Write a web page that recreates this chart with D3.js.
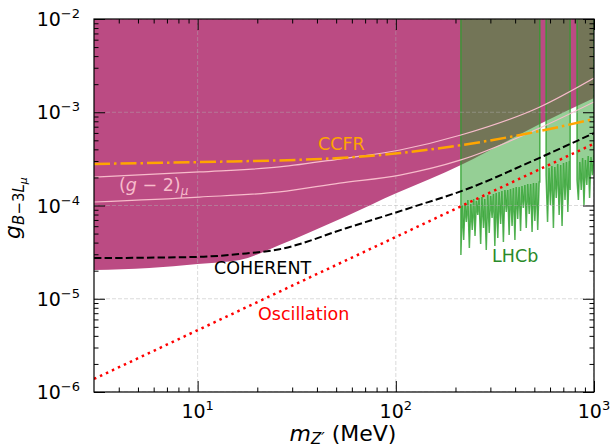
<!DOCTYPE html>
<html>
<head>
<meta charset="utf-8">
<script src="https://cdn.jsdelivr.net/npm/d3@7"></script>
<style>
body { margin: 0; background: #fff; }
svg text { font-family: "DejaVu Sans", sans-serif; }
</style>
</head>
<body>
<div id="chart"></div>
<script>
// tick values
var massTicks = [10, 100, 1000];
var massMinor = [4, 5, 6, 7, 8, 9, 20, 30, 40, 50, 60, 70, 80, 90, 200, 300, 400, 500, 600, 700, 800, 900];
var couplingTicks = [1e-6, 1e-5, 1e-4, 1e-3, 1e-2];
var couplingExp = ["\u22126", "\u22125", "\u22124", "\u22123", "\u22122"];
var massExp = ["1", "2", "3"];

// lower edge of the already excluded (magenta) region, [m (MeV), g]
var excludedEdge = [[3, 2.03e-5], [5.7, 2.14e-5], [10, 2.36e-5], [16.3, 2.61e-5], [25.9, 3.77e-5],
    [38.1, 5.33e-5], [56.6, 7.72e-5], [101, 1.36e-4], [148.5, 1.92e-4], [213, 2.72e-4],
    [533, 7.48e-4], [1000, 1.42e-3]];

// LHCb lower edge, three pieces
var lhcbSeg1 = [[213, 2.94e-5], [216.5, 1.012e-4], [220, 4.27e-5], [223.5, 1.064e-4], [227, 6.65e-5],
    [231, 1.146e-4], [235, 3.50e-5], [239, 1.038e-4], [243, 5.46e-5], [247, 1.174e-4],
    [251, 4.71e-5], [255, 1.117e-4], [259, 7.91e-5], [263, 1.203e-4], [268, 3.87e-5],
    [272, 1.233e-4], [277, 5.74e-5], [281, 1.174e-4], [286, 3.33e-5], [291, 1.296e-4],
    [296, 5.07e-5], [301, 1.264e-4], [306, 7.35e-5], [311, 1.328e-4], [316, 3.68e-5],
    [321, 1.361e-4], [327, 4.48e-5], [332, 1.395e-4], [338, 6.33e-5], [343, 1.430e-4],
    [349, 4.06e-5], [355, 1.466e-4], [361, 8.52e-5], [367, 1.466e-4], [373, 4.83e-5],
    [379, 1.503e-4], [386, 6.03e-5], [392, 1.540e-4], [399, 4.27e-5], [405, 1.579e-4],
    [412, 7.17e-5], [419, 1.579e-4], [426, 5.33e-5], [433, 1.618e-4], [440, 9.40e-5],
    [448, 1.659e-4], [455, 5.74e-5], [463, 1.700e-4], [471, 8.11e-5], [479, 1.700e-4],
    [487, 5.20e-5], [495, 1.743e-4], [503, 6.82e-5], [512, 1.743e-4], [520, 5.46e-5],
    [529, 1.786e-4], [533, 1.786e-4]];
var lhcbSeg2 = [[573, 2.12e-4], [583, 6.65e-5], [593, 2.52e-4], [603, 1.012e-4], [613, 2.65e-4],
    [624, 5.74e-5], [634, 2.59e-4], [645, 1.203e-4], [656, 2.79e-4], [667, 7.91e-5],
    [679, 2.72e-4], [690, 6.03e-5], [702, 2.86e-4], [714, 1.146e-4], [726, 2.93e-4],
    [738, 8.52e-5], [751, 3.0e-4], [758, 1.466e-4]];
var lhcbSeg3 = [[821, 1.877e-4], [834, 1.146e-4], [848, 2.93e-4], [862, 1.466e-4], [876, 3.23e-4],
    [890, 1.012e-4], [905, 3.08e-4], [920, 1.659e-4], [935, 3.40e-4], [950, 1.203e-4],
    [966, 3.31e-4], [982, 2.12e-4], [1000, 3.48e-4]];

// (g-2)_mu band edges
var gm2Upper = [[3, 2.02e-4], [10.2, 2.29e-4], [25.9, 2.59e-4], [52, 3.15e-4], [105, 3.94e-4],
    [213, 5.70e-4], [533, 1.14e-3], [1000, 2.33e-3]];
var gm2Lower = [[3, 1.09e-4], [10.2, 1.23e-4], [25.9, 1.40e-4], [52, 1.74e-4], [105, 2.12e-4],
    [213, 3.08e-4], [533, 6.78e-4], [1000, 1.29e-3]];

var ccfr = [[3, 2.79e-4], [10, 2.92e-4], [52, 3.23e-4], [105, 3.65e-4], [200, 4.35e-4],
    [475, 5.98e-4], [1000, 8.47e-4]];

var coherent = [[3, 2.73e-5], [10, 2.81e-5], [16.3, 3.02e-5], [25.9, 3.40e-5], [56.6, 5.74e-5],
    [122, 9.64e-5], [236, 1.54e-4], [475, 2.92e-4], [1000, 5.98e-4]];

var oscillation = [[3, 1.38e-6], [1000, 4.6e-4]];


var margin = { top: 19, right: 18, bottom: 56, left: 94 };
var width = 612 - margin.left - margin.right;
var height = 448 - margin.top - margin.bottom;

var svg = d3.select("#chart").append("svg")
    .attr("width", 612)
    .attr("height", 448);

var g = svg.append("g")
    .attr("transform", "translate(" + margin.left + "," + margin.top + ")");

var x = d3.scaleLog().domain([3, 1000]).range([0, width]);
var y = d3.scaleLog().domain([1e-6, 1e-2]).range([height, 0]);

svg.append("defs").append("clipPath").attr("id", "clip")
    .append("rect").attr("width", width).attr("height", height);

var plot = g.append("g").attr("clip-path", "url(#clip)");

// magenta region, from edge up to the top
var area = d3.area()
    .x(function(d) { return x(d[0]); })
    .y0(0)
    .y1(function(d) { return y(d[1]); })
    .curve(d3.curveMonotoneX);

plot.append("path")
    .attr("d", area(excludedEdge))
    .attr("fill", "#bb4b83");

// LHCb
var lhcbArea = d3.area()
    .x(function(d) { return x(d[0]); })
    .y0(0)
    .y1(function(d) { return y(d[1]); });
var edge = d3.line()
    .x(function(d) { return x(d[0]); })
    .y(function(d) { return y(d[1]); });

[lhcbSeg1, lhcbSeg2, lhcbSeg3].forEach(function(seg) {
    plot.append("path")
        .attr("d", lhcbArea(seg))
        .attr("fill", "#2ca02c")
        .attr("fill-opacity", 0.5);
    var outline = [[seg[0][0], 1e-2]].concat(seg).concat([[seg[seg.length - 1][0], 1e-2]]);
    plot.append("path")
        .attr("d", edge(outline))
        .attr("fill", "none")
        .attr("stroke", "#2ca02c")
        .attr("stroke-opacity", 0.8)
        .attr("stroke-width", 1.5);
});

// grid
plot.selectAll(".gx").data(massTicks).enter().append("line")
    .attr("x1", function(d) { return x(d); }).attr("x2", function(d) { return x(d); })
    .attr("y1", 0).attr("y2", height);
plot.selectAll(".gy").data(couplingTicks).enter().append("line")
    .attr("y1", function(d) { return y(d); }).attr("y2", function(d) { return y(d); })
    .attr("x1", 0).attr("x2", width);
plot.selectAll("line")
    .attr("stroke", "#b0b0b0")
    .attr("stroke-opacity", 0.45)
    .attr("stroke-width", 1)
    .attr("stroke-dasharray", "4,2");

var curve = d3.line()
    .x(function(d) { return x(d[0]); })
    .y(function(d) { return y(d[1]); })
    .curve(d3.curveMonotoneX);

[gm2Upper, gm2Lower].forEach(function(s) {
    plot.append("path").attr("d", curve(s))
        .attr("fill", "none").attr("stroke", "#f7bccb").attr("stroke-width", 1.2);
});

plot.append("path").attr("d", curve(ccfr))
    .attr("fill", "none").attr("stroke", "#ffa500").attr("stroke-width", 2.5)
    .attr("stroke-dasharray", "16,4,2.5,4");

plot.append("path").attr("d", curve(coherent))
    .attr("fill", "none").attr("stroke", "#000").attr("stroke-width", 2)
    .attr("stroke-dasharray", "7.4,3.2");

plot.append("path").attr("d", edge(oscillation))
    .attr("fill", "none").attr("stroke", "red").attr("stroke-width", 2.5)
    .attr("stroke-dasharray", "2.5,4.1");

// labels in the plot
function label(xp, yp, color) {
    return g.append("text").attr("x", xp).attr("y", yp)
        .attr("fill", color).attr("font-size", 17.5);
}
label(318 - margin.left, 150 - margin.top, "#ffa500").text("CCFR");
label(214 - margin.left, 274 - margin.top, "#000").text("COHERENT");
label(492 - margin.left, 262 - margin.top, "#2a8a2a").text("LHCb");
label(258 - margin.left, 320 - margin.top, "red").text("Oscillation");
var gl = label(119 - margin.left, 191 - margin.top, "#f7bccb");
gl.append("tspan").text("(");
gl.append("tspan").attr("font-style", "italic").text("g");
gl.append("tspan").text(" \u2212 2)");
gl.append("tspan").attr("font-style", "italic").attr("font-size", 12).attr("dy", 4).text("\u03bc");

// axes, ticks pointing in
function addAxis(axis, tf, vals, size) {
    g.append("g").attr("transform", tf)
        .call(axis.tickValues(vals).tickSize(-size).tickSizeOuter(0).tickFormat(""))
        .call(function(s) { s.select(".domain").remove(); });
}
addAxis(d3.axisBottom(x), "translate(0," + height + ")", massTicks, 11);
addAxis(d3.axisBottom(x), "translate(0," + height + ")", massMinor, 4.5);
addAxis(d3.axisTop(x), "translate(0,0)", massTicks, 11);
addAxis(d3.axisTop(x), "translate(0,0)", massMinor, 4.5);

var couplingMinor = [];
couplingTicks.slice(0, 4).forEach(function(t) {
    for (var k = 2; k <= 9; k++) couplingMinor.push(t * k);
});
addAxis(d3.axisLeft(y), "translate(0,0)", couplingTicks, 11);
addAxis(d3.axisLeft(y), "translate(0,0)", couplingMinor, 4.5);
addAxis(d3.axisRight(y), "translate(" + width + ",0)", couplingTicks, 11);
addAxis(d3.axisRight(y), "translate(" + width + ",0)", couplingMinor, 4.5);

g.append("rect").attr("width", width).attr("height", height)
    .attr("fill", "none").attr("stroke", "#000").attr("stroke-width", 1.2);

// tick labels
massTicks.forEach(function(v, i) {
    var t = g.append("text").attr("x", x(v)).attr("y", height + 26)
        .attr("text-anchor", "middle").attr("font-size", 19);
    t.append("tspan").text("10");
    t.append("tspan").attr("dy", -8).attr("font-size", 13).text(massExp[i]);
});
couplingTicks.forEach(function(v, i) {
    var t = g.append("text").attr("x", -14).attr("y", y(v) + 7)
        .attr("text-anchor", "end").attr("font-size", 19);
    t.append("tspan").text("10");
    t.append("tspan").attr("dy", -8).attr("font-size", 13).text(couplingExp[i]);
});

// axis titles
var xt = svg.append("text").attr("x", 343).attr("y", 441)
    .attr("text-anchor", "middle").attr("font-size", 22);
xt.append("tspan").attr("font-style", "italic").text("m");
xt.append("tspan").attr("font-style", "italic").attr("font-size", 15).attr("dy", 3).text("Z\u2032");
xt.append("tspan").attr("dy", -3).text(" (MeV)");

var yt = svg.append("text").attr("transform", "translate(20,208) rotate(-90)")
    .attr("text-anchor", "middle").attr("font-size", 22);
yt.append("tspan").attr("font-style", "italic").text("g");
yt.append("tspan").attr("font-style", "italic").attr("font-size", 15).attr("dy", 4).text("B");
yt.append("tspan").attr("font-size", 15).text("\u22123");
yt.append("tspan").attr("font-style", "italic").attr("font-size", 15).text("L");
yt.append("tspan").attr("font-style", "italic").attr("font-size", 11).attr("dy", 3).text("\u03bc");
</script>
</body>
</html>
